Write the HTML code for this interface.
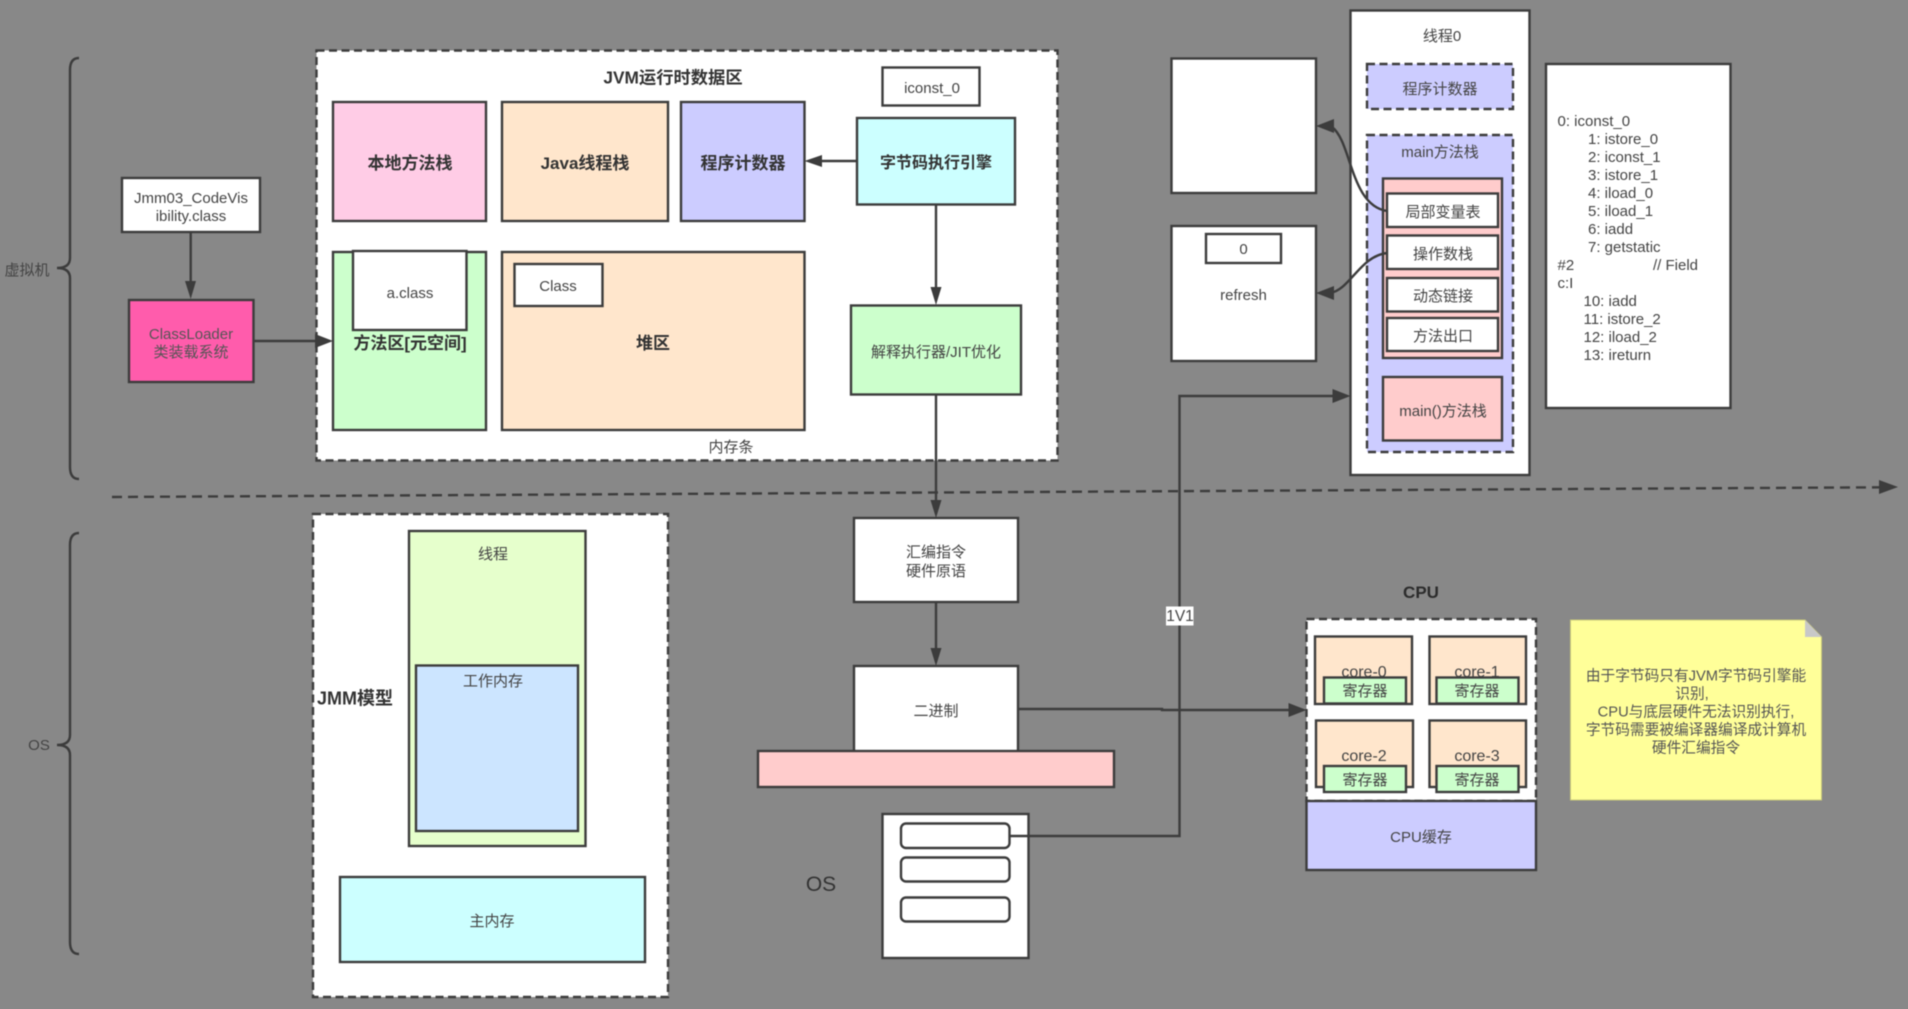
<!DOCTYPE html>
<html><head><meta charset="utf-8"><style>
html,body{margin:0;padding:0;background:#888;width:1908px;height:1009px;overflow:hidden}
svg{display:block;filter:blur(.45px)}
text{font-family:"Liberation Sans","Noto Sans CJK SC",sans-serif;font-size:15px;fill:#444;text-anchor:middle;dominant-baseline:central;transform:translateY(.6px)}
.b{font-weight:bold;font-size:17px;fill:#333}
rect,.s{stroke:#3c3c3c;stroke-width:2.4}
.d{stroke-dasharray:8 4.5}
.l{fill:none;stroke:#3c3c3c;stroke-width:2.4}
.h{fill:#3c3c3c;stroke:none}
.c{text-anchor:start;fill:#444}
</style></head><body>
<svg width="1908" height="1009" viewBox="0 0 1908 1009" xmlns="http://www.w3.org/2000/svg">
<rect x="0" y="0" width="1908" height="1009" fill="#888" style="stroke:none"/>

<!-- braces -->
<path class="l" d="M79 58Q70 58 70 70V258Q70 268 57 268Q70 268 70 278V467Q70 479 79 479"/>
<path class="l" d="M79 533Q70 533 70 545V735Q70 745 57 745Q70 745 70 755V942Q70 954 79 954"/>
<text x="27" y="270">虚拟机</text>
<text x="39" y="745">OS</text>

<!-- JVM area -->
<rect x="316.5" y="50.5" width="741" height="410" fill="#fff" class="d"/>
<text class="b" x="673" y="77" style="font-size:17.3px">JVM运行时数据区</text>
<rect x="882.5" y="67.5" width="97" height="38" fill="#fff"/>
<text x="932" y="88">iconst_0</text>
<rect x="333" y="102" width="153" height="119" fill="#ffcce6"/>
<text class="b" x="410" y="163">本地方法栈</text>
<rect x="502" y="102" width="166" height="119" fill="#ffe6cc"/>
<text class="b" x="585" y="163">Java线程栈</text>
<rect x="681" y="102" width="123.500" height="119" fill="#ccccff"/>
<text class="b" x="743" y="163">程序计数器</text>
<rect x="857" y="118" width="158" height="86.500" fill="#ccffff"/>
<text class="b" x="936" y="163" style="font-size:16px">字节码执行引擎</text>

<rect x="333" y="252" width="153" height="178" fill="#ccffcc"/>
<rect x="353" y="251" width="113.500" height="79" fill="#fff"/>
<text x="410" y="293">a.class</text>
<text class="b" x="410" y="343">方法区[元空间]</text>
<rect x="502" y="252" width="302.500" height="178" fill="#ffe6cc"/>
<rect x="514.500" y="264" width="88" height="42" fill="#fff"/>
<text x="558" y="286">Class</text>
<text class="b" x="653" y="343">堆区</text>
<rect x="851" y="305.500" width="170" height="89" fill="#ccffcc"/>
<text x="936" y="352">解释执行器/JIT优化</text>
<text x="731" y="447">内存条</text>

<!-- class loader -->
<rect x="122" y="178" width="138" height="54" fill="#fff"/>
<text x="191" y="198">Jmm03_CodeVis</text>
<text x="191" y="216">ibility.class</text>
<rect x="129" y="300" width="124.500" height="82" fill="#ff5cac"/>
<text x="191" y="334" style="fill:#555">ClassLoader</text>
<text x="191" y="352" style="fill:#555">类装载系统</text>

<!-- connectors upper -->
<path class="l" d="M190.700 232V285"/><path class="h" d="M185 281H196L190.700 299Z"/>
<path class="l" d="M253.500 341H320"/><path class="h" d="M315 334L333 341L315 348Z"/>
<path class="l" d="M857 161H820"/><path class="h" d="M822 155L804.500 161L822 167Z"/>
<path class="l" d="M936 205V290"/><path class="h" d="M930.500 287H941.500L936 305Z"/>
<path class="l" d="M936 395V505"/><path class="h" d="M930.500 500H941.500L936 518Z"/>

<!-- divider -->
<path class="l d" style="stroke-dasharray:10 6" d="M112 497L1885 487.300"/>
<path class="h" d="M1879 480L1898 487L1879 494Z"/>

<!-- JMM -->
<rect x="313" y="514" width="355" height="483" fill="#fff" class="d"/>
<rect x="409" y="531" width="176.500" height="315" fill="#e6ffcc"/>
<text x="493" y="554">线程</text>
<rect x="416" y="665.500" width="162" height="165.500" fill="#cce5ff"/>
<text x="493" y="681">工作内存</text>
<rect x="340" y="877" width="305" height="85" fill="#ccffff"/>
<text x="492" y="921">主内存</text>
<text class="b" x="355" y="698" style="font-size:18px">JMM模型</text>

<!-- middle stack -->
<rect x="854" y="518" width="164" height="84" fill="#fff"/>
<text x="936" y="552">汇编指令</text>
<text x="936" y="571">硬件原语</text>
<path class="l" d="M936 602V652"/><path class="h" d="M930.500 648H941.500L936 666Z"/>
<rect x="854" y="666" width="164" height="90" fill="#fff"/>
<text x="936" y="711">二进制</text>
<rect x="758" y="751" width="356" height="36" fill="#ffcccc"/>
<rect x="882.500" y="814" width="146" height="144" fill="#fff"/>
<rect x="901" y="823.500" width="108.500" height="24.500" rx="5" fill="#fff"/>
<rect x="901" y="857.500" width="108.500" height="24" rx="5" fill="#fff"/>
<rect x="901" y="897.500" width="108.500" height="24" rx="5" fill="#fff"/>
<text x="821" y="884" style="font-size:21px;fill:#333">OS</text>

<!-- long connectors -->
<path class="l" d="M1018 709H1162V710H1292"/><path class="h" d="M1288.500 703L1306.500 710L1288.500 717Z"/>
<path class="l" d="M1009.500 836H1179.500V396H1336"/><path class="h" d="M1332.500 389L1350.500 396L1332.500 403Z"/>
<rect x="1166" y="606.500" width="27.500" height="19" fill="#fff" style="stroke:none"/>
<text x="1180" y="616" style="font-size:15.500px">1V1</text>

<!-- CPU -->
<text class="b" x="1421" y="592" style="fill:#2c2c2c">CPU</text>
<rect x="1306.500" y="619" width="229.500" height="182" fill="#fff" class="d"/>
<rect x="1306.500" y="801" width="229.500" height="69" fill="#ccccff"/>
<text x="1421" y="837">CPU缓存</text>
<rect x="1315" y="636.500" width="97" height="67.500" fill="#ffe6cc"/>
<rect x="1429.500" y="636.500" width="96.500" height="67.500" fill="#ffe6cc"/>
<rect x="1316" y="720.500" width="97" height="66.500" fill="#ffe6cc"/>
<rect x="1429.500" y="720.500" width="96.500" height="66.500" fill="#ffe6cc"/>
<text x="1364" y="672" style="font-size:16px">core-0</text>
<text x="1477" y="672" style="font-size:16px">core-1</text>
<text x="1364" y="756" style="font-size:16px">core-2</text>
<text x="1477" y="756" style="font-size:16px">core-3</text>
<rect x="1324" y="677.500" width="82" height="26" fill="#ccffcc"/>
<rect x="1436.500" y="677.500" width="82" height="26" fill="#ccffcc"/>
<rect x="1324" y="766" width="82" height="26" fill="#ccffcc"/>
<rect x="1436.500" y="766" width="82" height="26" fill="#ccffcc"/>
<text x="1365" y="691">寄存器</text>
<text x="1477" y="691">寄存器</text>
<text x="1365" y="780">寄存器</text>
<text x="1477" y="780">寄存器</text>

<!-- note -->
<path d="M1570.500 620H1805L1821.500 637V800H1570.500Z" fill="#ffff99" stroke="#c9c97a" stroke-width="1"/>
<path d="M1805 620L1821.500 637H1805Z" fill="#c8c8c8"/>
<text x="1696" y="676" style="font-size:14.700px;fill:#555">由于字节码只有JVM字节码引擎能</text>
<text x="1692" y="694" style="font-size:14.700px;fill:#555">识别,</text>
<text x="1696" y="712" style="font-size:14.700px;fill:#555">CPU与底层硬件无法识别执行,</text>
<text x="1696" y="730" style="font-size:14.700px;fill:#555">字节码需要被编译器编译成计算机</text>
<text x="1696" y="748" style="font-size:14.700px;fill:#555">硬件汇编指令</text>

<!-- heap/stack boxes -->
<rect x="1171.500" y="58.500" width="144.500" height="134.500" fill="#fff"/>
<rect x="1171.500" y="226" width="144.500" height="135" fill="#fff"/>
<rect x="1206" y="234" width="75" height="29" fill="#fff"/>
<text x="1243.500" y="249">0</text>
<text x="1243.500" y="295">refresh</text>

<!-- thread -->
<rect x="1350.500" y="10.500" width="179" height="464.500" fill="#fff"/>
<text x="1442" y="36">线程0</text>
<rect x="1367" y="64" width="146" height="45" fill="#ccccff" class="d"/>
<text x="1440" y="89">程序计数器</text>
<rect x="1367" y="135" width="146" height="317" fill="#ccccff" class="d"/>
<text x="1440" y="152">main方法栈</text>
<rect x="1383" y="178.500" width="119" height="179.500" fill="#ffcccc"/>
<rect x="1387" y="193.500" width="111" height="33.500" fill="#fff"/>
<text x="1443" y="212">局部变量表</text>
<rect x="1387" y="235.500" width="111" height="33.500" fill="#fff"/>
<text x="1443" y="254">操作数栈</text>
<rect x="1387" y="278" width="111" height="33.500" fill="#fff"/>
<text x="1443" y="296">动态链接</text>
<rect x="1387" y="318" width="111" height="33" fill="#fff"/>
<text x="1443" y="336">方法出口</text>
<rect x="1383" y="377" width="119" height="63.500" fill="#ffcccc"/>
<text x="1443" y="411">main()方法栈</text>

<!-- curved -->
<path class="l" d="M1387 211C1350 205 1352 142 1332 127L1322 126"/>
<path class="h" d="M1334 119V133L1316 126Z"/>
<path class="l" d="M1387 253C1360 256 1350 290 1330 293L1322 293"/>
<path class="h" d="M1334 286V300L1316 293Z"/>

<!-- code -->
<rect x="1546" y="64" width="184.500" height="344" fill="#fff"/>
<text class="c" x="1557.500" y="121">0: iconst_0</text>
<text class="c" x="1588" y="139">1: istore_0</text>
<text class="c" x="1588" y="157">2: iconst_1</text>
<text class="c" x="1588" y="175">3: istore_1</text>
<text class="c" x="1588" y="193">4: iload_0</text>
<text class="c" x="1588" y="211">5: iload_1</text>
<text class="c" x="1588" y="229">6: iadd</text>
<text class="c" x="1588" y="247">7: getstatic</text>
<text class="c" x="1557.500" y="265">#2</text>
<text class="c" x="1653" y="265">// Field</text>
<text class="c" x="1557.500" y="283">c:I</text>
<text class="c" x="1583.500" y="301">10: iadd</text>
<text class="c" x="1583.500" y="319">11: istore_2</text>
<text class="c" x="1583.500" y="337">12: iload_2</text>
<text class="c" x="1583.500" y="355">13: ireturn</text>
</svg>
</body></html>
